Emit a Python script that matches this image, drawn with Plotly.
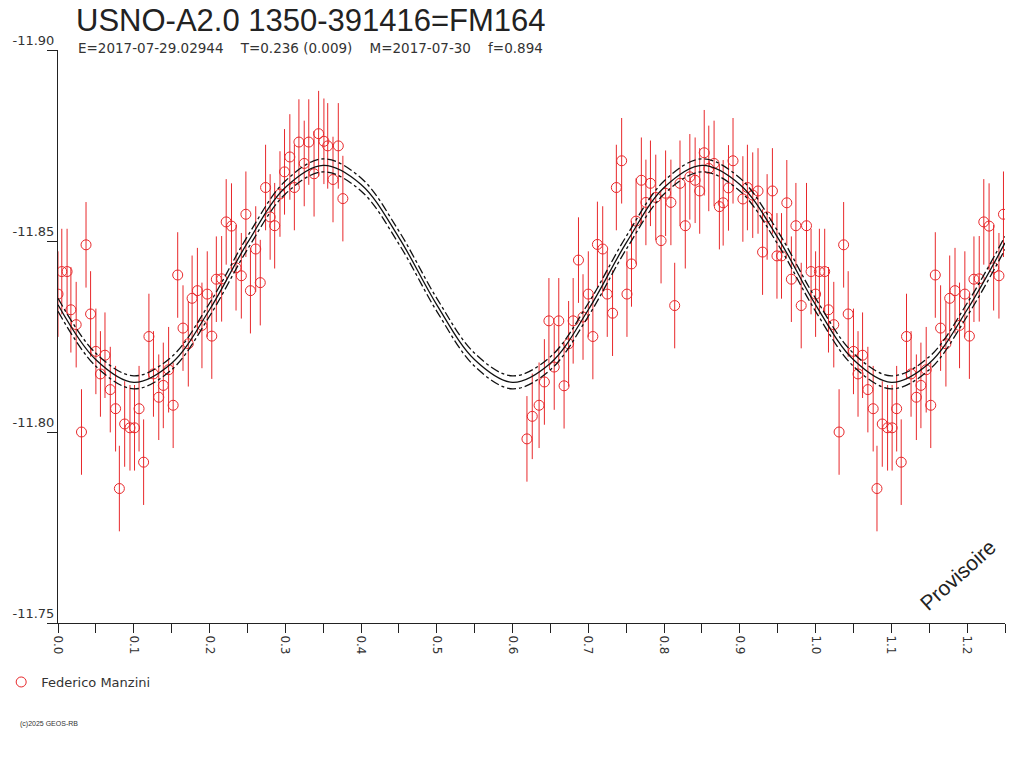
import plotly.graph_objects as go

# Phase / magnitude readings (one cycle, 0..1); shown again for phase+1 up to 1.25
PHASE = [
    0.000, 0.005, 0.012, 0.017, 0.024, 0.031, 0.037, 0.043, 0.050, 0.056,
    0.062, 0.069, 0.076, 0.081, 0.088, 0.095, 0.101, 0.107, 0.113, 0.120,
    0.126, 0.133, 0.139, 0.146, 0.152, 0.158, 0.165, 0.172, 0.177, 0.184,
    0.190, 0.197, 0.203, 0.209, 0.216, 0.222, 0.229, 0.235, 0.242, 0.248,
    0.254, 0.261, 0.267, 0.274, 0.280, 0.286, 0.293, 0.299, 0.306, 0.312,
    0.318, 0.325, 0.331, 0.338, 0.344, 0.351, 0.356, 0.363, 0.370, 0.376,
    0.619, 0.626, 0.635, 0.642, 0.648, 0.655, 0.661, 0.668, 0.674, 0.680,
    0.687, 0.693, 0.700, 0.706, 0.712, 0.719, 0.725, 0.732, 0.737, 0.744,
    0.751, 0.757, 0.763, 0.770, 0.776, 0.782, 0.789, 0.796, 0.802, 0.809,
    0.814, 0.821, 0.828, 0.834, 0.841, 0.847, 0.853, 0.859, 0.866, 0.873,
    0.878, 0.885, 0.891, 0.904, 0.910, 0.917, 0.924, 0.930, 0.936, 0.943,
    0.949, 0.955, 0.962, 0.968, 0.974, 0.981, 0.988, 0.994,
]
MAG = [
    -11.8361, -11.8420, -11.8420, -11.8320, -11.8281, -11.8000, -11.8490, -11.8309, -11.8211, -11.8152,
    -11.8201, -11.8111, -11.8061, -11.7852, -11.8021, -11.8011, -11.8011, -11.8061, -11.7921, -11.8250,
    -11.8152, -11.8091, -11.8122, -11.8163, -11.8070, -11.8411, -11.8272, -11.8231, -11.8350, -11.8370,
    -11.8279, -11.8361, -11.8251, -11.8400, -11.8401, -11.8550, -11.8539, -11.8430, -11.8409, -11.8570,
    -11.8370, -11.8479, -11.8391, -11.8640, -11.8563, -11.8540, -11.8623, -11.8681, -11.8720, -11.8640,
    -11.8759, -11.8703, -11.8759, -11.8676, -11.8781, -11.8761, -11.8749, -11.8661, -11.8749, -11.8611,
    -11.7982, -11.8041, -11.8070, -11.8131, -11.8291, -11.8170, -11.8291, -11.8121, -11.8231, -11.8291,
    -11.8450, -11.8301, -11.8361, -11.8250, -11.8491, -11.8479, -11.8361, -11.8311, -11.8640, -11.8710,
    -11.8361, -11.8440, -11.8552, -11.8659, -11.8601, -11.8651, -11.8614, -11.8501, -11.8625, -11.8601,
    -11.8331, -11.8651, -11.8540, -11.8668, -11.8659, -11.8631, -11.8731, -11.8690, -11.8703, -11.8590,
    -11.8600, -11.8639, -11.8710, -11.8610, -11.8640, -11.8620, -11.8631, -11.8471, -11.8563, -11.8631,
    -11.8461, -11.8461, -11.8600, -11.8400, -11.8540, -11.8331, -11.8540, -11.8420,
]
MAG_ERR = 0.0112

# fitted light curve read at every 0.05 in phase, with its +/- band
FIT_PHASE = [0.00, 0.05, 0.10, 0.15, 0.20, 0.25, 0.30, 0.35, 0.40, 0.45,
             0.50, 0.55, 0.60, 0.65, 0.70, 0.75, 0.80, 0.85, 0.90, 0.95,
             1.00, 1.05, 1.10, 1.15, 1.20, 1.25]
FIT_MAG = [-11.8333, -11.8189, -11.8130, -11.8180, -11.8320, -11.8495, -11.8640, -11.8698, -11.8648, -11.8509,
           -11.8333, -11.8189, -11.8130, -11.8180, -11.8320, -11.8495, -11.8640, -11.8698, -11.8648, -11.8509,
           -11.8333, -11.8189, -11.8130, -11.8180, -11.8320, -11.8495]
FIT_BAND = 0.0017

Y_TICKS = [-11.90, -11.85, -11.80, -11.75]
Y_TICK_LABELS = ["-11.90", "-11.85", "-11.80", "-11.75"]

TITLE = "USNO-A2.0 1350-391416=FM164"
SUBTITLE = "E=2017-07-29.02944    T=0.236 (0.009)    M=2017-07-30    f=0.894"
OBSERVER = "Federico Manzini"

RED = "#e8282b"
FONT = "Liberation Sans, Arial, sans-serif"
FONT_W = "DejaVu Sans, Verdana, sans-serif"

# repeat the start of the cycle after phase 1
x_pts = list(PHASE) + [p + 1 for p in PHASE if p + 1 <= 1.25]
y_pts = list(MAG) + [m for p, m in zip(PHASE, MAG) if p + 1 <= 1.25]

fig = go.Figure()

fig.add_trace(go.Scatter(
    x=x_pts, y=y_pts, mode="markers", name=OBSERVER,
    marker=dict(symbol="circle-open", size=10, color=RED, line=dict(width=1, color=RED)),
    error_y=dict(type="constant", value=MAG_ERR, color=RED, thickness=1, width=0),
))

fig.add_trace(go.Scatter(
    x=FIT_PHASE, y=FIT_MAG, mode="lines", showlegend=False, hoverinfo="skip",
    line=dict(color="#111", width=1.3, shape="spline"),
))
for sign in (-1, 1):
    fig.add_trace(go.Scatter(
        x=FIT_PHASE, y=[m + sign * FIT_BAND for m in FIT_MAG], mode="lines",
        showlegend=False, hoverinfo="skip",
        line=dict(color="#111", width=1.3, shape="spline", dash="dashdot"),
    ))

fig.update_xaxes(
    range=[0, 1.25], dtick=0.1, tick0=0, tickformat=".1f", tickangle=90,
    ticks="outside", ticklen=9, tickcolor="#222", showline=True, linecolor="#222",
    showgrid=False, zeroline=False, automargin=False,
    minor=dict(dtick=0.05, ticks="outside", ticklen=9, tickcolor="#222", showgrid=False),
    tickfont=dict(family=FONT_W, size=12, color="#333"),
)
fig.update_yaxes(
    range=[-11.75, -11.90], tickvals=Y_TICKS, ticktext=Y_TICK_LABELS,
    ticks="outside", ticklen=10, tickcolor="#222", showline=True, linecolor="#222",
    showgrid=False, zeroline=False, ticklabelposition="outside top", automargin=False,
    tickfont=dict(family=FONT_W, size=13, color="#333"),
)

fig.update_layout(
    width=1024, height=768,
    margin=dict(l=58, r=19, t=50, b=145, autoexpand=False),
    paper_bgcolor="white", plot_bgcolor="white",
    font=dict(family=FONT, color="#222"),
    title=dict(text=TITLE, x=76 / 1024, y=1 - 20 / 768, xanchor="left", yanchor="middle",
               xref="container", yref="container",
               font=dict(family=FONT, size=31, color="#222")),
    showlegend=True,
    legend=dict(x=-0.06, y=-0.103, xanchor="left", yanchor="middle",
                font=dict(family=FONT_W, size=13, color="#333"), bgcolor="rgba(0,0,0,0)"),
    annotations=[
        dict(text=SUBTITLE, xref="paper", yref="paper", x=0.019, y=1.0035,
             xanchor="left", yanchor="middle", showarrow=False,
             font=dict(family=FONT_W, size=13.5, color="#333")),
        dict(text="Provisoire", xref="paper", yref="paper", x=(957 - 58) / 947, y=(623 - 575) / 573,
             xanchor="center", yanchor="middle",
             textangle=-42, showarrow=False, font=dict(family=FONT, size=21, color="#222")),
        dict(text="(c)2025 GEOS-RB", xref="paper", yref="paper", x=(18 - 58) / 947, y=(623 - 724) / 573,
             xanchor="left", yanchor="middle", showarrow=False,
             font=dict(family=FONT, size=7, color="#333")),
    ],
)

# drop the page's default body margin so the figure fills the window
fig.write_html("out.html", config={"displayModeBar": False},
               post_script="document.body.style.margin = '0';")
